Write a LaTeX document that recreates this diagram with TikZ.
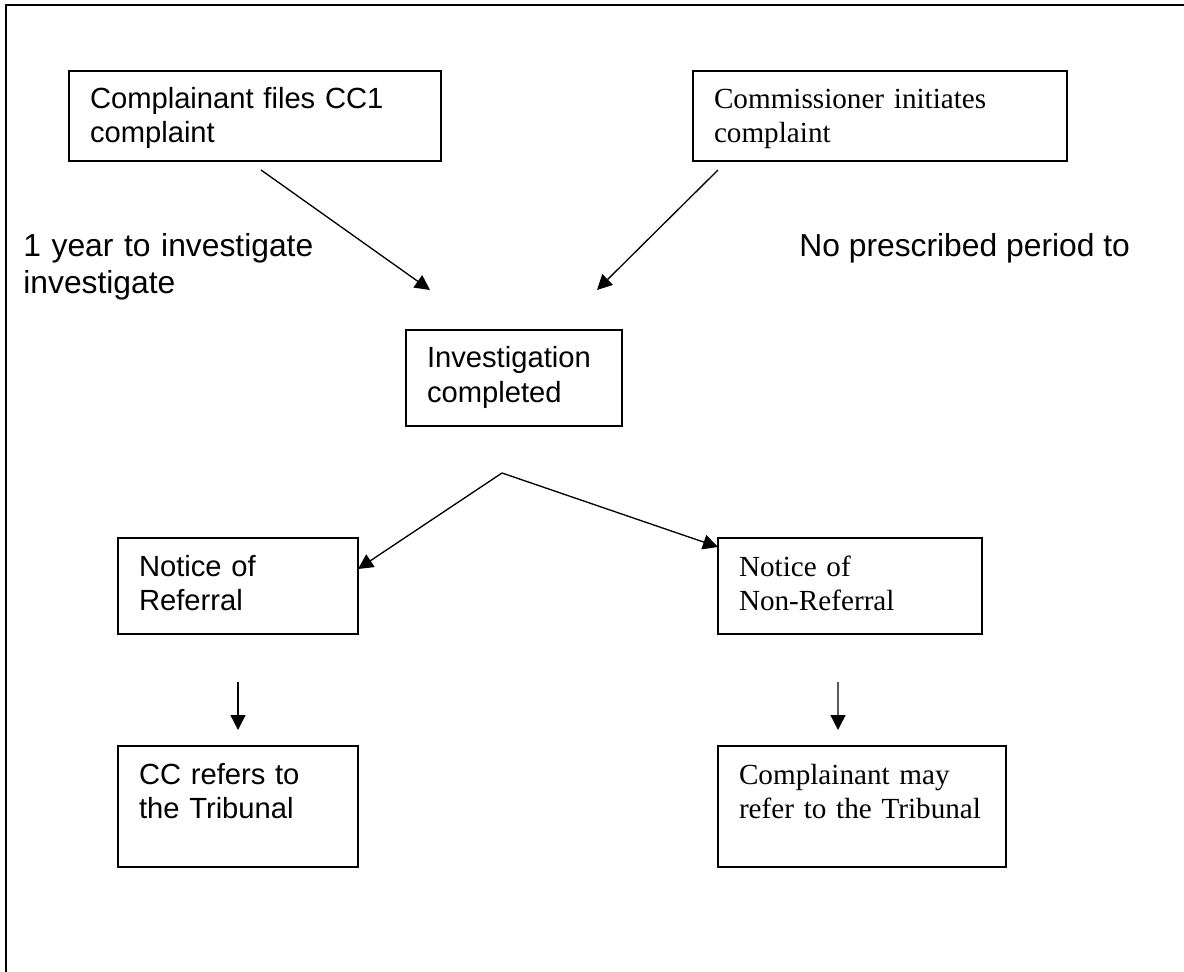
\documentclass[tikz,border=0pt]{standalone}
\usepackage{fontspec}
\setmainfont{Liberation Sans}
\newfontfamily\timesfont{Liberation Serif}
\usetikzlibrary{arrows.meta}

\begin{document}
\begin{tikzpicture}[
        box/.style={draw, line width=1pt, anchor=north west, outer sep=0pt,
            inner xsep=0.42cm, inner ysep=0.34cm, align=left, text height=0.42cm,
            font=\fontsize{16.6}{19.35}\selectfont},
        serifbox/.style={box, font=\timesfont\fontsize{16.6}{19.35}\selectfont},
        note/.style={anchor=base west, inner sep=0pt, align=left,
            font=\fontsize{18.1}{20.5}\selectfont},
        arr/.style={-{Triangle[length=0.3cm, width=0.3cm]}, line width=0.75pt}]
        % Marco
        \useasboundingbox (0,0) rectangle (23.68,-19.44);
        \clip (0,0) rectangle (23.68,-19.44);
        \draw[line width=1.2pt] (0.12,-0.1) rectangle (25,-21);

        % Quejas
        \node[box, text width=6.6cm, text depth=0.7cm] (complainant) at (1.38,-1.42) {Complainant files CC1\\complaint};
        \node[serifbox, text width=6.64cm, text depth=0.7cm] (commissioner) at (13.86,-1.42) {Commissioner initiates\\complaint};

        % Plazos
        \node[note, text width=8cm] (yearnote) at (0.46,-5.14) {1 year to investigate\\investigate};
        \node[note] (periodnote) at (15.98,-5.14) {No prescribed period to};

        % Investigacion
        \node[box, text width=3.48cm, text depth=0.82cm] (investigation) at (8.12,-6.6) {Investigation\\completed};

        % Avisos
        \node[box, text width=3.96cm, text depth=0.82cm] (referral) at (2.36,-10.76) {Notice of\\Referral};
        \node[serifbox, text width=4.44cm, text depth=0.82cm] (nonreferral) at (14.36,-10.76) {Notice of\\Non-Referral};

        % Tribunal
        \node[box, text width=3.96cm, text depth=1.32cm] (ccrefers) at (2.36,-14.92) {CC refers to\\the Tribunal};
        \node[serifbox, text width=4.92cm, text depth=1.32cm] (mayrefer) at (14.36,-14.92) {Complainant may\\refer to the Tribunal};

        % Flechas
        \draw[arr] ([shift={(0.12,-0.18)}]complainant.south) -- ([shift={(0.48,0.8)}]investigation.north west);
        \draw[arr] ([shift={(0.5,-0.18)}]commissioner.south west) -- ([shift={(-0.5,0.8)}]investigation.north east);
        \coordinate (split) at ([shift={(-0.24,-0.94)}]investigation.south);
        \draw[arr] (split) -- ([yshift=-0.62cm]referral.north east);
        \draw[arr] (split) -- ([yshift=-0.18cm]nonreferral.north west);
        \draw[arr] ([yshift=-0.96cm]referral.south) -- ([yshift=0.32cm]ccrefers.north);
        \draw[arr] ([shift={(-0.24,-0.96)}]nonreferral.south) -- ([shift={(-0.48,0.32)}]mayrefer.north);
\end{tikzpicture}
\end{document}
